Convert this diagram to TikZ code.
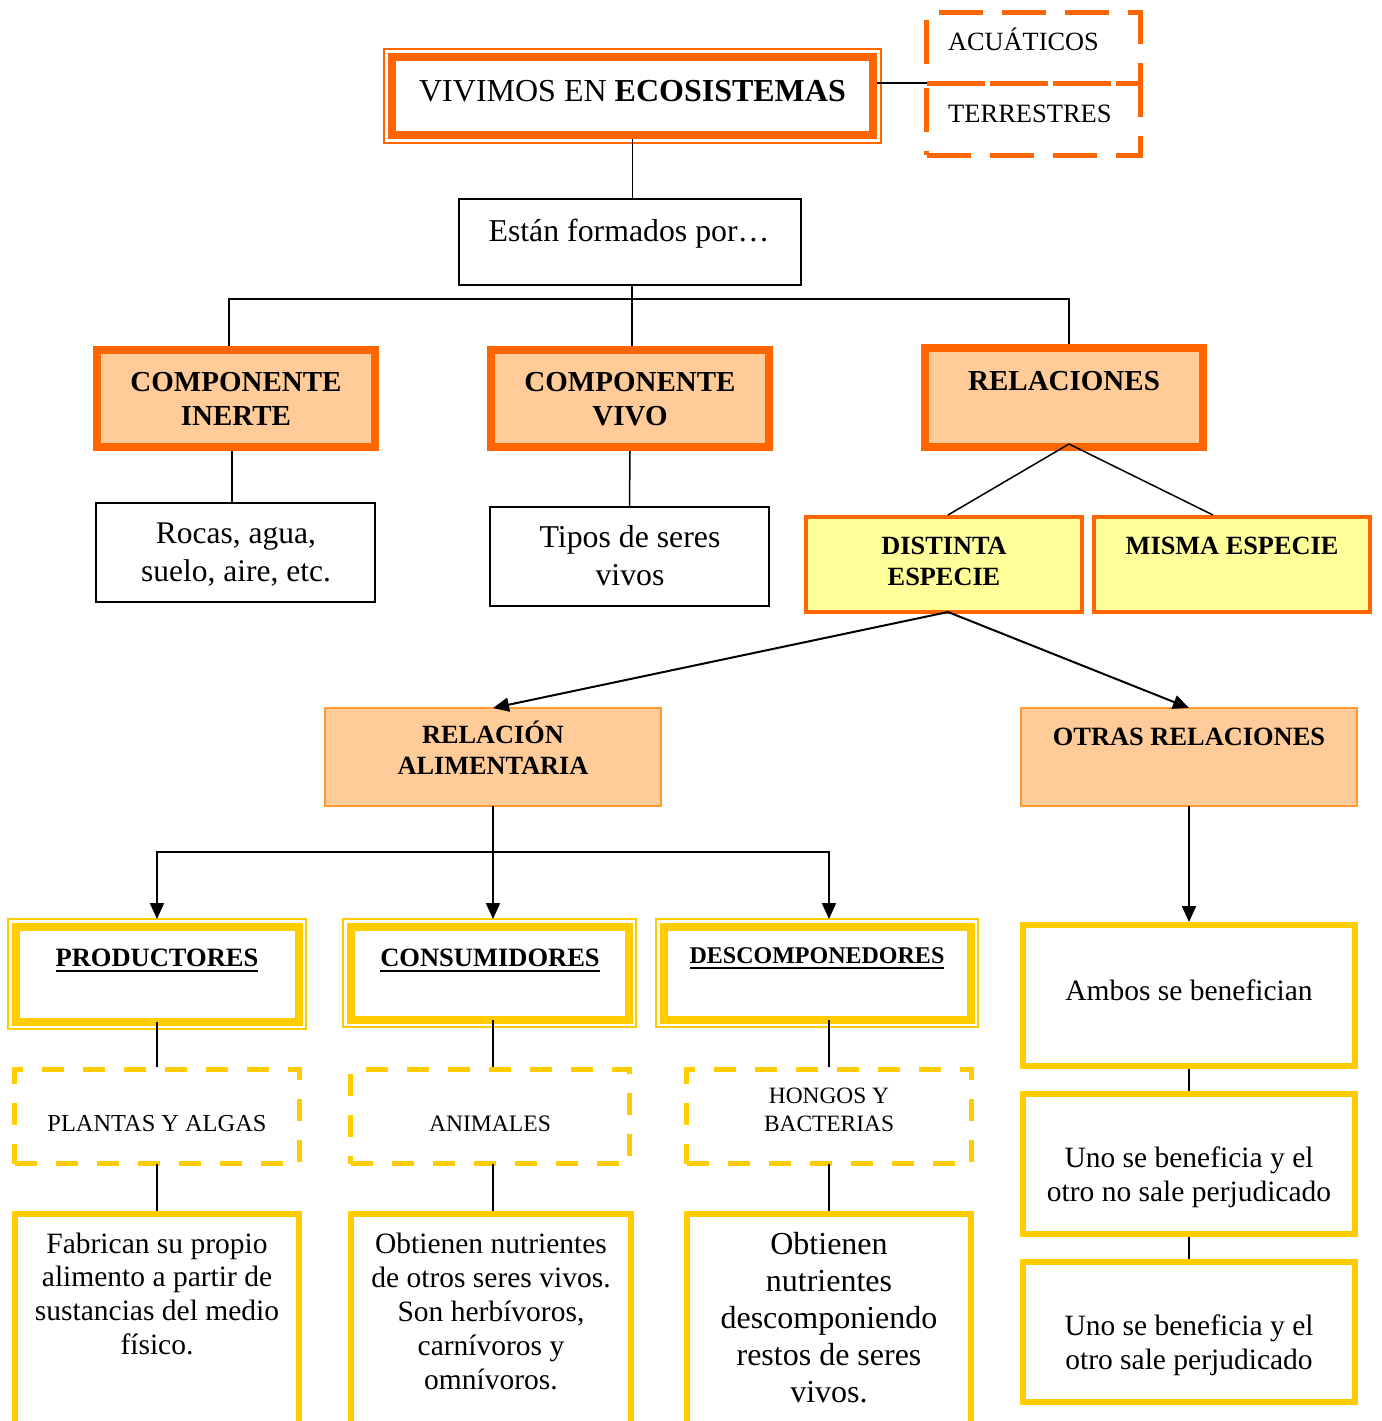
\documentclass[tikz,border=0pt]{standalone}
\usepackage{fontspec}
\setmainfont{Liberation Serif}
\usetikzlibrary{arrows.meta}
\definecolor{orng}{HTML}{FF6600}
\definecolor{peach}{HTML}{FFCC99}
\definecolor{lyel}{HTML}{FFFF99}
\definecolor{gold}{HTML}{FFCC00}
\definecolor{lorng}{HTML}{FF9933}
\newcommand\ulbox[1]{\setbox0\hbox{#1}\rlap{\rule[-6pt]{\wd0}{2.4pt}}\box0}
\begin{document}
\begin{tikzpicture}[x=1pt,y=-1pt,
  box/.style={rectangle, inner sep=0pt, outer sep=0pt},
  thinbox/.style={box, draw=black, line width=1.2pt, fill=white},
  compbox/.style={box, draw=orng, line width=8pt, fill=peach},
  especbox/.style={box, draw=orng, line width=4pt, fill=lyel},
  alimbox/.style={box, draw=lorng, line width=1.3pt, fill=peach},
  dorange/.style={box, draw=orng, line width=5pt, dash pattern=on 44pt off 19pt},
  dyellow/.style={box, draw=gold, line width=5.5pt, dash pattern=on 22pt off 19pt},
  ybox/.style={box, draw=gold, line width=6pt, fill=white},
  dblybox/.style={box, draw=gold, line width=8pt, fill=white},
  dblobox/.style={box, draw=orng, line width=8pt, fill=white},
  txt/.style={inner sep=0pt, anchor=base},
  conn/.style={draw=black, line width=1.5pt},
  arr/.style={draw=black, line width=2pt, -{Triangle[length=16pt,width=14pt]}},
]
\fill[white] (0,0) rectangle (1381,1421);
\useasboundingbox (0,0) rectangle (1381,1421);

% ---------- top ----------
\node[dblobox, minimum width=481pt, minimum height=78pt] (vivimos) at (632.5,96) {};
\draw[orng, line width=1.5pt] ([xshift=-8pt,yshift=-8pt]vivimos.south west) rectangle ([xshift=8pt,yshift=8pt]vivimos.north east);
\node[txt, font=\fontsize{32}{38}\selectfont] (vivimos-t) at (632.5,101) {VIVIMOS EN \textbf{ECOSISTEMAS}};

\node[dorange, minimum width=213.5pt, minimum height=70pt] (acuaticos) at (1033.25,48) {};
\node[dorange, minimum width=213.5pt, minimum height=72pt] (terrestres) at (1033.25,119) {};
\node[txt, anchor=base west, font=\fontsize{26.3}{30}\selectfont] (acuaticos-t) at (948,51) {ACUÁTICOS};
\node[txt, anchor=base west, font=\fontsize{26.5}{30}\selectfont] (terrestres-t) at (948,122) {TERRESTRES};

\node[thinbox, minimum width=342pt, minimum height=86pt] (estan) at (630,242) {};
\node[txt, font=\fontsize{31.8}{36}\selectfont] (estan-t) at (629,241) {Están formados por…};

% ---------- components ----------
\node[compbox, minimum width=278pt, minimum height=97pt] (inerte) at (236,398.5) {};
\node[txt, font=\fontsize{29}{34}\selectfont\bfseries] (inerte-t1) at (236,391) {COMPONENTE};
\node[txt, font=\fontsize{29}{34}\selectfont\bfseries] (inerte-t2) at (236,425) {INERTE};

\node[compbox, minimum width=278pt, minimum height=97pt] (vivo) at (630,398.5) {};
\node[txt, font=\fontsize{29}{34}\selectfont\bfseries] (vivo-t1) at (630,391) {COMPONENTE};
\node[txt, font=\fontsize{29}{34}\selectfont\bfseries] (vivo-t2) at (630,425) {VIVO};

\node[compbox, minimum width=278pt, minimum height=99pt] (relaciones) at (1064,397.5) {};
\node[txt, font=\fontsize{29}{34}\selectfont\bfseries] (relaciones-t) at (1064,390) {RELACIONES};

\node[thinbox, minimum width=279pt, minimum height=99pt] (rocas) at (235.5,552.5) {};
\node[txt, font=\fontsize{31.5}{36}\selectfont] (rocas-t1) at (236,543) {Rocas, agua,};
\node[txt, font=\fontsize{31.5}{36}\selectfont] (rocas-t2) at (236,581) {suelo, aire, etc.};

\node[thinbox, minimum width=279pt, minimum height=99pt] (tipos) at (629.5,556.5) {};
\node[txt, font=\fontsize{31.8}{36}\selectfont] (tipos-t1) at (630,547) {Tipos de seres};
\node[txt, font=\fontsize{31.8}{36}\selectfont] (tipos-t2) at (630,585) {vivos};

\node[especbox, minimum width=276pt, minimum height=95pt] (distinta) at (944,564.5) {};
\node[txt, font=\fontsize{26.3}{30}\selectfont\bfseries] (distinta-t1) at (944,554) {DISTINTA};
\node[txt, font=\fontsize{26.3}{30}\selectfont\bfseries] (distinta-t2) at (944,585) {ESPECIE};

\node[especbox, minimum width=276pt, minimum height=95pt] (misma) at (1232,564.5) {};
\node[txt, font=\fontsize{26.3}{30}\selectfont\bfseries] (misma-t) at (1232,554) {MISMA ESPECIE};

\node[alimbox, minimum width=336pt, minimum height=98pt] (alim) at (493,757) {};
\node[txt, font=\fontsize{26.3}{30}\selectfont\bfseries] (alim-t1) at (493,743) {RELACIÓN};
\node[txt, font=\fontsize{26.3}{30}\selectfont\bfseries] (alim-t2) at (493,774) {ALIMENTARIA};

\node[alimbox, minimum width=336pt, minimum height=98pt] (otras) at (1189,757) {};
\node[txt, font=\fontsize{26.4}{30}\selectfont\bfseries] (otras-t) at (1189,745) {OTRAS RELACIONES};

% ---------- food groups ----------
\node[dblybox, minimum width=283pt, minimum height=95pt] (prod) at (157,974) {};
\draw[gold, line width=1.5pt] ([xshift=-7.5pt,yshift=-7.5pt]prod.south west) rectangle ([xshift=7.5pt,yshift=7.5pt]prod.north east);
\node[txt, font=\fontsize{26.5}{30}\selectfont\bfseries] (prod-t) at (157,966) {\ulbox{PRODUCTORES}};

\node[dblybox, minimum width=278pt, minimum height=93pt] (cons) at (489.5,973) {};
\draw[gold, line width=1.5pt] ([xshift=-7.5pt,yshift=-7.5pt]cons.south west) rectangle ([xshift=7.5pt,yshift=7.5pt]cons.north east);
\node[txt, font=\fontsize{26.5}{30}\selectfont\bfseries] (cons-t) at (490,966) {\ulbox{CONSUMIDORES}};

\node[dblybox, minimum width=307pt, minimum height=93pt] (desc) at (817,973) {};
\draw[gold, line width=1.5pt] ([xshift=-7.5pt,yshift=-7.5pt]desc.south west) rectangle ([xshift=7.5pt,yshift=7.5pt]desc.north east);
\node[txt, font=\fontsize{24}{28}\selectfont\bfseries] (desc-t) at (817,963) {\ulbox{DESCOMPONEDORES}};

\node[dyellow, minimum width=285pt, minimum height=94pt] (plantas) at (157,1116.5) {};
\node[txt, font=\fontsize{24.4}{28}\selectfont] (plantas-t) at (157,1131) {PLANTAS Y ALGAS};
\node[dyellow, minimum width=279pt, minimum height=94pt] (animales) at (490,1116.5) {};
\node[txt, font=\fontsize{23.6}{28}\selectfont] (animales-t) at (490,1131) {ANIMALES};
\node[dyellow, minimum width=285pt, minimum height=94pt] (hongos) at (829,1116.5) {};
\node[txt, font=\fontsize{23.4}{28}\selectfont] (hongos-t1) at (829,1103) {HONGOS Y};
\node[txt, font=\fontsize{23.4}{28}\selectfont] (hongos-t2) at (829,1131) {BACTERIAS};

\node[ybox, minimum width=284pt, minimum height=220pt] (fab) at (157,1324) {};
\foreach \t [count=\i] in {{Fabrican su propio},{alimento a partir de},{sustancias del medio},{físico.}}
  \node[txt, font=\fontsize{29.5}{34}\selectfont] (fab-\i) at (157,{1253+33.7*(\i-1)}) {\t};
\node[ybox, minimum width=280pt, minimum height=220pt] (obt) at (491,1324) {};
\foreach \t [count=\i] in {{Obtienen nutrientes},{de otros seres vivos.},{Son herbívoros,},{carnívoros y},{omnívoros.}}
  \node[txt, font=\fontsize{29.5}{34}\selectfont] (obt-\i) at (491,{1253+34*(\i-1)}) {\t};
\node[ybox, minimum width=284pt, minimum height=220pt] (dsc) at (829,1324) {};
\foreach \t [count=\i] in {{Obtienen},{nutrientes},{descomponiendo},{restos de seres},{vivos.}}
  \node[txt, font=\fontsize{32}{37}\selectfont] (dsc-\i) at (829,{1254+37*(\i-1)}) {\t};

\node[ybox, minimum width=332pt, minimum height=141pt] (ambos) at (1189,995.5) {};
\node[txt, font=\fontsize{29.5}{34}\selectfont] (ambos-t) at (1189,1000) {Ambos se benefician};
\node[ybox, minimum width=332pt, minimum height=140pt] (uno1) at (1189,1164) {};
\node[txt, font=\fontsize{29.5}{34}\selectfont] (uno1-t1) at (1189,1167) {Uno se beneficia y el};
\node[txt, font=\fontsize{29.5}{34}\selectfont] (uno1-t2) at (1189,1201) {otro no sale perjudicado};
\node[ybox, minimum width=332pt, minimum height=140pt] (uno2) at (1189,1332) {};
\node[txt, font=\fontsize{29.5}{34}\selectfont] (uno2-t1) at (1189,1335) {Uno se beneficia y el};
\node[txt, font=\fontsize{29.5}{34}\selectfont] (uno2-t2) at (1189,1369) {otro sale perjudicado};

% ---------- connectors ----------
\draw[conn] ([yshift=-4pt]vivimos.south) -- (vivimos.south |- estan.north);
\coordinate (ve) at ([xshift=4pt]vivimos.east);
\draw[conn] (ve |- acuaticos.south west) -- (acuaticos.south west);
\coordinate (bar) at (632,299);
\draw[conn] ([xshift=2pt]estan.south) -- ([xshift=2pt,yshift=4pt]vivo.north);
\draw[conn] ([xshift=-7pt,yshift=4pt]inerte.north) |- (bar) -| ([xshift=5pt,yshift=4pt]relaciones.north);
\draw[conn] ([xshift=-4pt,yshift=-4pt]inerte.south) -- ([xshift=-3.5pt]rocas.north);
\draw[conn] ([yshift=-4pt]vivo.south) -- (tipos.north);
\draw[conn] ([xshift=5pt,yshift=3pt]relaciones.south) -- ([xshift=4pt,yshift=2pt]distinta.north);
\draw[conn] ([xshift=5pt,yshift=3pt]relaciones.south) -- ([xshift=-19pt,yshift=2pt]misma.north);
\draw[arr] ([xshift=4pt]distinta.south) -- (alim.north);
\draw[arr] ([xshift=4pt]distinta.south) -- (otras.north);
\coordinate (hb) at ([yshift=-46pt]alim.south);
\draw[arr] (alim.south) -- ([xshift=3.5pt,yshift=7.5pt]cons.north);
\draw[arr] (hb) -| ([yshift=7.5pt]prod.north);
\draw[arr] (hb) -| ([xshift=12pt,yshift=7.5pt]desc.north);
\draw[arr] (otras.south) -- ([yshift=3pt]ambos.north);
\draw[conn] ([yshift=-3pt]ambos.south) -- ([yshift=3pt]uno1.north);
\draw[conn] ([yshift=-3pt]uno1.south) -- ([yshift=3pt]uno2.north);
\draw[conn] (prod.south) -- ([yshift=2.5pt]plantas.north);
\draw[conn] (plantas.south) -- ([yshift=3pt]fab.north);
\draw[conn] ([xshift=3.5pt]cons.south) -- ([xshift=3pt,yshift=2.5pt]animales.north);
\draw[conn] ([xshift=3pt]animales.south) -- ([xshift=2pt,yshift=3pt]obt.north);
\draw[conn] ([xshift=12pt]desc.south) -- ([yshift=2.5pt]hongos.north);
\draw[conn] (hongos.south) -- ([yshift=3pt]dsc.north);
\end{tikzpicture}
\end{document}
